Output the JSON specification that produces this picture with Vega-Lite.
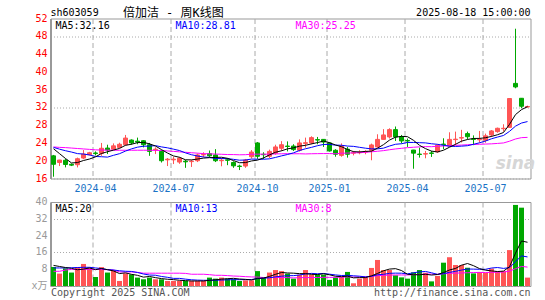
{
  "$schema": "https://vega.github.io/schema/vega-lite/v6.json",
  "background": "white",
  "padding": {"left": 30.5, "top": 5.5, "right": 0, "bottom": 0},
  "bounds": "flush",
  "spacing": 23.5,
  "config": {
    "font": "DejaVu Sans Mono",
    "view": {"stroke": "#999999", "strokeWidth": 1},
    "axis": {"labelFont": "DejaVu Sans Mono, Noto Sans CJK SC", "labelFontSize": 10, "ticks": false, "domain": false, "title": null}
  },
  "data": {"values": [
{"date":"2024-02-08","open":21.1,"high":21.3,"low":16.4,"close":19.2,"vol":9.05,"ma5":22.7,"ma10":23.0,"ma30":23.1,"vma5":9.8,"vma10":8.6,"vma30":7.0},
{"date":"2024-02-23","open":19.6,"high":20.2,"low":18.8,"close":20.15,"vol":5.9,"ma5":21.6,"ma10":22.6,"ma30":23.0,"vma5":9.3,"vma10":8.6,"vma30":7.0},
{"date":"2024-03-01","open":20.1,"high":20.4,"low":18.5,"close":19.15,"vol":8.4,"ma5":20.5,"ma10":22.25,"ma30":22.95,"vma5":8.8,"vma10":8.6,"vma30":7.6},
{"date":"2024-03-08","open":19.2,"high":19.35,"low":18.8,"close":19.0,"vol":6.4,"ma5":19.5,"ma10":21.95,"ma30":22.85,"vma5":8.4,"vma10":8.7,"vma30":7.9},
{"date":"2024-03-15","open":19.1,"high":20.7,"low":18.5,"close":20.45,"vol":9.0,"ma5":19.59,"ma10":21.6,"ma30":22.75,"vma5":7.75,"vma10":8.8,"vma30":7.9},
{"date":"2024-03-22","open":20.6,"high":22.4,"low":20.35,"close":21.5,"vol":10.5,"ma5":20.05,"ma10":21.5,"ma30":22.65,"vma5":8.04,"vma10":8.9,"vma30":7.9},
{"date":"2024-03-29","open":21.35,"high":22.0,"low":21.2,"close":21.8,"vol":8.7,"ma5":20.38,"ma10":21.3,"ma30":22.55,"vma5":8.6,"vma10":8.9,"vma30":7.9},
{"date":"2024-04-03","open":21.75,"high":22.1,"low":21.2,"close":21.6,"vol":4.3,"ma5":20.87,"ma10":20.95,"ma30":22.45,"vma5":7.78,"vma10":8.6,"vma30":7.9},
{"date":"2024-04-12","open":21.65,"high":24.0,"low":21.1,"close":22.8,"vol":9.0,"ma5":21.63,"ma10":20.9,"ma30":22.4,"vma5":8.3,"vma10":8.3,"vma30":7.8},
{"date":"2024-04-19","open":22.85,"high":23.6,"low":21.5,"close":22.4,"vol":6.4,"ma5":22.02,"ma10":20.81,"ma30":22.38,"vma5":7.78,"vma10":7.77,"vma30":7.8},
{"date":"2024-04-26","open":22.6,"high":23.9,"low":22.5,"close":23.35,"vol":7.5,"ma5":22.39,"ma10":21.22,"ma30":22.36,"vma5":7.18,"vma10":7.61,"vma30":7.6},
{"date":"2024-04-30","open":23.0,"high":24.05,"low":22.85,"close":23.7,"vol":2.4,"ma5":22.77,"ma10":21.58,"ma30":22.35,"vma5":5.92,"vma10":7.26,"vma30":6.7},
{"date":"2024-05-10","open":23.6,"high":25.8,"low":23.4,"close":25.1,"vol":6.0,"ma5":23.47,"ma10":22.17,"ma30":22.35,"vma5":6.26,"vma10":7.02,"vma30":6.7},
{"date":"2024-05-17","open":24.65,"high":24.8,"low":23.6,"close":24.0,"vol":5.5,"ma5":23.71,"ma10":22.67,"ma30":22.35,"vma5":5.56,"vma10":6.93,"vma30":6.7},
{"date":"2024-05-24","open":24.4,"high":25.2,"low":23.7,"close":24.2,"vol":4.0,"ma5":24.07,"ma10":23.05,"ma30":22.36,"vma5":5.08,"vma10":6.43,"vma30":6.5},
{"date":"2024-05-31","open":24.5,"high":24.65,"low":23.0,"close":23.6,"vol":3.2,"ma5":24.12,"ma10":23.26,"ma30":22.36,"vma5":4.22,"vma10":5.7,"vma30":6.1},
{"date":"2024-06-07","open":23.6,"high":24.0,"low":21.1,"close":22.1,"vol":4.0,"ma5":23.8,"ma10":23.29,"ma30":22.35,"vma5":4.54,"vma10":5.23,"vma30":6.1},
{"date":"2024-06-14","open":22.45,"high":23.0,"low":21.5,"close":22.6,"vol":3.2,"ma5":23.3,"ma10":23.39,"ma30":22.33,"vma5":3.98,"vma10":5.12,"vma30":6.1},
{"date":"2024-06-21","open":22.1,"high":22.45,"low":19.6,"close":20.0,"vol":3.2,"ma5":22.5,"ma10":23.11,"ma30":22.3,"vma5":3.52,"vma10":4.54,"vma30":6.1},
{"date":"2024-06-28","open":20.2,"high":20.6,"low":18.8,"close":20.35,"vol":2.4,"ma5":21.73,"ma10":22.9,"ma30":22.2,"vma5":3.2,"vma10":4.14,"vma30":6.1},
{"date":"2024-07-05","open":20.2,"high":20.9,"low":19.25,"close":20.35,"vol":2.4,"ma5":21.08,"ma10":22.6,"ma30":22.1,"vma5":3.04,"vma10":3.63,"vma30":6.1},
{"date":"2024-07-12","open":19.7,"high":20.85,"low":19.3,"close":20.6,"vol":2.4,"ma5":20.78,"ma10":22.29,"ma30":22.0,"vma5":2.72,"vma10":3.63,"vma30":6.1},
{"date":"2024-07-19","open":19.9,"high":20.2,"low":18.4,"close":19.75,"vol":2.4,"ma5":20.21,"ma10":21.76,"ma30":21.9,"vma5":2.56,"vma10":3.27,"vma30":6.0},
{"date":"2024-07-26","open":19.8,"high":20.2,"low":18.6,"close":19.9,"vol":2.4,"ma5":20.19,"ma10":21.35,"ma30":21.8,"vma5":2.4,"vma10":2.96,"vma30":5.6},
{"date":"2024-08-02","open":20.0,"high":21.6,"low":19.7,"close":21.3,"vol":2.4,"ma5":20.38,"ma10":21.06,"ma30":21.7,"vma5":2.4,"vma10":2.8,"vma30":5.6},
{"date":"2024-08-09","open":21.3,"high":21.9,"low":20.85,"close":21.4,"vol":2.4,"ma5":20.59,"ma10":20.84,"ma30":21.6,"vma5":2.4,"vma10":2.72,"vma30":5.6},
{"date":"2024-08-16","open":21.6,"high":22.3,"low":20.8,"close":21.1,"vol":4.0,"ma5":20.69,"ma10":20.74,"ma30":21.55,"vma5":2.72,"vma10":2.72,"vma30":5.4},
{"date":"2024-08-23","open":21.3,"high":22.6,"low":19.7,"close":20.0,"vol":3.5,"ma5":20.74,"ma10":20.48,"ma30":21.5,"vma5":2.94,"vma10":2.75,"vma30":5.1},
{"date":"2024-08-30","open":20.0,"high":20.6,"low":18.75,"close":20.1,"vol":4.0,"ma5":20.78,"ma10":20.49,"ma30":21.45,"vma5":3.26,"vma10":2.83,"vma30":5.1},
{"date":"2024-09-06","open":20.2,"high":20.6,"low":19.0,"close":20.1,"vol":3.5,"ma5":20.54,"ma10":20.46,"ma30":21.39,"vma5":3.48,"vma10":2.94,"vma30":4.95},
{"date":"2024-09-13","open":19.6,"high":19.85,"low":18.4,"close":18.85,"vol":3.2,"ma5":20.03,"ma10":20.31,"ma30":21.38,"vma5":3.64,"vma10":3.02,"vma30":4.75},
{"date":"2024-09-20","open":18.8,"high":19.1,"low":17.9,"close":18.7,"vol":2.4,"ma5":19.55,"ma10":20.12,"ma30":21.33,"vma5":3.32,"vma10":3.02,"vma30":4.64},
{"date":"2024-09-27","open":18.8,"high":20.4,"low":18.4,"close":20.15,"vol":2.7,"ma5":19.58,"ma10":20.16,"ma30":21.36,"vma5":3.16,"vma10":3.05,"vma30":4.45},
{"date":"2024-09-30","open":20.9,"high":22.4,"low":20.5,"close":21.95,"vol":2.7,"ma5":19.95,"ma10":20.37,"ma30":21.46,"vma5":2.9,"vma10":3.08,"vma30":4.32},
{"date":"2024-10-11","open":24.0,"high":24.2,"low":20.4,"close":21.0,"vol":7.1,"ma5":20.13,"ma10":20.34,"ma30":21.48,"vma5":3.62,"vma10":3.55,"vma30":4.26},
{"date":"2024-10-18","open":21.45,"high":21.9,"low":20.4,"close":21.35,"vol":4.0,"ma5":20.63,"ma10":20.33,"ma30":21.47,"vma5":3.78,"vma10":3.71,"vma30":4.04},
{"date":"2024-10-25","open":21.0,"high":22.5,"low":20.6,"close":22.1,"vol":6.4,"ma5":21.31,"ma10":20.43,"ma30":21.48,"vma5":4.58,"vma10":3.95,"vma30":3.97},
{"date":"2024-11-01","open":21.7,"high":23.6,"low":21.35,"close":23.1,"vol":7.6,"ma5":21.9,"ma10":20.74,"ma30":21.53,"vma5":5.56,"vma10":4.36,"vma30":4.08},
{"date":"2024-11-08","open":22.8,"high":24.4,"low":22.2,"close":23.6,"vol":7.1,"ma5":22.23,"ma10":21.09,"ma30":21.56,"vma5":6.44,"vma10":4.67,"vma30":4.01},
{"date":"2024-11-15","open":23.3,"high":24.35,"low":22.1,"close":23.2,"vol":5.9,"ma5":22.67,"ma10":21.4,"ma30":21.59,"vma5":6.2,"vma10":4.91,"vma30":4.0},
{"date":"2024-11-22","open":23.3,"high":23.7,"low":22.2,"close":22.5,"vol":3.5,"ma5":22.9,"ma10":21.77,"ma30":21.56,"vma5":6.1,"vma10":4.94,"vma30":3.86},
{"date":"2024-11-29","open":22.35,"high":24.8,"low":22.05,"close":24.0,"vol":5.4,"ma5":23.28,"ma10":22.3,"ma30":21.57,"vma5":5.9,"vma10":5.24,"vma30":3.96},
{"date":"2024-12-06","open":23.9,"high":25.2,"low":22.95,"close":24.05,"vol":7.6,"ma5":23.47,"ma10":22.69,"ma30":21.53,"vma5":5.9,"vma10":5.73,"vma30":4.02},
{"date":"2024-12-13","open":24.0,"high":25.5,"low":23.7,"close":25.2,"vol":5.4,"ma5":23.79,"ma10":23.01,"ma30":21.57,"vma5":5.56,"vma10":6.0,"vma30":4.01},
{"date":"2024-12-20","open":24.75,"high":25.35,"low":23.7,"close":24.65,"vol":5.4,"ma5":24.08,"ma10":23.38,"ma30":21.59,"vma5":5.46,"vma10":5.83,"vma30":4.06},
{"date":"2024-12-27","open":24.8,"high":24.85,"low":23.1,"close":24.2,"vol":5.4,"ma5":24.42,"ma10":23.66,"ma30":21.61,"vma5":5.84,"vma10":5.97,"vma30":4.13},
{"date":"2025-01-03","open":24.0,"high":24.15,"low":22.05,"close":22.2,"vol":2.9,"ma5":24.06,"ma10":23.67,"ma30":21.61,"vma5":5.34,"vma10":5.62,"vma30":4.1},
{"date":"2025-01-10","open":22.35,"high":22.6,"low":20.9,"close":21.45,"vol":4.1,"ma5":23.54,"ma10":23.51,"ma30":21.57,"vma5":4.64,"vma10":5.27,"vma30":4.13},
{"date":"2025-01-17","open":21.2,"high":23.9,"low":20.9,"close":23.3,"vol":4.4,"ma5":23.16,"ma10":23.48,"ma30":21.68,"vma5":4.44,"vma10":5.0,"vma30":4.17},
{"date":"2025-01-24","open":22.6,"high":23.1,"low":20.7,"close":21.45,"vol":6.7,"ma5":22.52,"ma10":23.3,"ma30":21.72,"vma5":4.7,"vma10":5.08,"vma30":4.31},
{"date":"2025-01-27","open":21.7,"high":22.2,"low":21.2,"close":21.8,"vol":1.3,"ma5":22.04,"ma10":23.23,"ma30":21.77,"vma5":3.88,"vma10":4.86,"vma30":4.27},
{"date":"2025-02-07","open":21.8,"high":22.35,"low":21.45,"close":21.9,"vol":3.5,"ma5":21.98,"ma10":23.02,"ma30":21.81,"vma5":4.0,"vma10":4.67,"vma30":4.31},
{"date":"2025-02-14","open":21.95,"high":22.35,"low":21.45,"close":22.05,"vol":4.1,"ma5":22.1,"ma10":22.82,"ma30":21.89,"vma5":4.0,"vma10":4.32,"vma30":4.37},
{"date":"2025-02-21","open":22.35,"high":23.85,"low":20.1,"close":23.55,"vol":8.6,"ma5":22.15,"ma10":22.66,"ma30":22.01,"vma5":4.84,"vma10":4.64,"vma30":4.57},
{"date":"2025-02-28","open":23.1,"high":25.95,"low":22.95,"close":24.8,"vol":12.4,"ma5":22.82,"ma10":22.67,"ma30":22.13,"vma5":5.98,"vma10":5.34,"vma30":4.91},
{"date":"2025-03-07","open":24.8,"high":27.1,"low":24.75,"close":25.8,"vol":7.6,"ma5":23.62,"ma10":22.83,"ma30":22.27,"vma5":7.24,"vma10":5.56,"vma30":5.08},
{"date":"2025-03-14","open":25.35,"high":27.3,"low":25.0,"close":27.0,"vol":7.6,"ma5":24.64,"ma10":23.31,"ma30":22.47,"vma5":8.06,"vma10":6.03,"vma30":5.2},
{"date":"2025-03-21","open":27.0,"high":27.7,"low":24.45,"close":25.35,"vol":5.1,"ma5":25.3,"ma10":23.7,"ma30":22.65,"vma5":8.26,"vma10":6.13,"vma30":5.25},
{"date":"2025-03-28","open":25.35,"high":25.8,"low":23.9,"close":24.45,"vol":4.1,"ma5":25.48,"ma10":23.82,"ma30":22.79,"vma5":7.36,"vma10":6.1,"vma30":5.26},
{"date":"2025-04-03","open":24.55,"high":25.0,"low":23.1,"close":24.45,"vol":3.5,"ma5":25.41,"ma10":24.12,"ma30":22.94,"vma5":5.58,"vma10":5.78,"vma30":5.26},
{"date":"2025-04-11","open":22.4,"high":22.45,"low":18.2,"close":21.7,"vol":6.5,"ma5":24.59,"ma10":24.11,"ma30":23.03,"vma5":5.36,"vma10":6.3,"vma30":5.37},
{"date":"2025-04-18","open":21.5,"high":22.95,"low":20.7,"close":21.4,"vol":7.6,"ma5":23.47,"ma10":24.06,"ma30":23.12,"vma5":5.36,"vma10":6.71,"vma30":5.54},
{"date":"2025-04-25","open":21.5,"high":22.2,"low":20.55,"close":21.6,"vol":6.3,"ma5":22.72,"ma10":24.01,"ma30":23.17,"vma5":5.6,"vma10":6.93,"vma30":5.66},
{"date":"2025-04-30","open":21.75,"high":22.2,"low":20.85,"close":21.65,"vol":2.2,"ma5":22.16,"ma10":23.82,"ma30":23.16,"vma5":5.22,"vma10":6.29,"vma30":5.64},
{"date":"2025-05-09","open":22.0,"high":23.7,"low":21.8,"close":23.5,"vol":4.8,"ma5":21.97,"ma10":23.69,"ma30":23.25,"vma5":5.48,"vma10":5.53,"vma30":5.57},
{"date":"2025-05-16","open":23.75,"high":25.05,"low":22.6,"close":23.65,"vol":11.1,"ma5":22.36,"ma10":23.48,"ma30":23.32,"vma5":6.4,"vma10":5.88,"vma30":5.8},
{"date":"2025-05-23","open":23.3,"high":26.4,"low":23.2,"close":24.8,"vol":13.7,"ma5":23.04,"ma10":23.26,"ma30":23.41,"vma5":7.62,"vma10":6.49,"vma30":6.05},
{"date":"2025-05-30","open":24.75,"high":26.55,"low":23.5,"close":24.85,"vol":10.0,"ma5":23.69,"ma10":23.21,"ma30":23.47,"vma5":8.36,"vma10":6.98,"vma30":6.13},
{"date":"2025-06-06","open":25.1,"high":26.95,"low":24.1,"close":25.2,"vol":10.0,"ma5":24.4,"ma10":23.28,"ma30":23.52,"vma5":9.92,"vma10":7.57,"vma30":6.22},
{"date":"2025-06-13","open":26.1,"high":26.55,"low":24.8,"close":25.4,"vol":8.7,"ma5":24.78,"ma10":23.38,"ma30":23.6,"vma5":10.7,"vma10":8.09,"vma30":6.32},
{"date":"2025-06-20","open":24.9,"high":25.7,"low":23.5,"close":24.8,"vol":6.0,"ma5":25.01,"ma10":23.69,"ma30":23.67,"vma5":9.68,"vma10":8.04,"vma30":6.4},
{"date":"2025-06-27","open":24.7,"high":26.7,"low":24.05,"close":24.85,"vol":6.7,"ma5":25.02,"ma10":24.03,"ma30":23.7,"vma5":8.28,"vma10":7.95,"vma30":6.44},
{"date":"2025-07-04","open":24.6,"high":26.1,"low":24.05,"close":25.6,"vol":6.3,"ma5":25.17,"ma10":24.43,"ma30":23.75,"vma5":7.54,"vma10":7.95,"vma30":6.4},
{"date":"2025-07-11","open":25.8,"high":26.9,"low":25.35,"close":26.7,"vol":8.3,"ma5":25.47,"ma10":24.94,"ma30":23.8,"vma5":7.2,"vma10":8.56,"vma30":6.5},
{"date":"2025-07-18","open":26.55,"high":27.45,"low":26.3,"close":27.3,"vol":7.1,"ma5":25.85,"ma10":25.32,"ma30":23.89,"vma5":6.88,"vma10":8.79,"vma30":6.55},
{"date":"2025-07-25","open":27.2,"high":28.2,"low":26.55,"close":27.3,"vol":7.1,"ma5":26.35,"ma10":25.68,"ma30":24.0,"vma5":7.1,"vma10":8.39,"vma30":6.61},
{"date":"2025-08-01","open":27.5,"high":34.0,"low":27.4,"close":34.0,"vol":17.1,"ma5":28.18,"ma10":26.6,"ma30":24.39,"vma5":9.18,"vma10":8.73,"vma30":7.08},
{"date":"2025-08-08","open":37.4,"high":49.7,"low":36.3,"close":36.6,"vol":38.6,"ma5":30.38,"ma10":27.78,"ma30":24.89,"vma5":15.64,"vma10":11.59,"vma30":8.23},
{"date":"2025-08-15","open":34.05,"high":34.1,"low":31.8,"close":32.25,"vol":37.3,"ma5":31.49,"ma10":28.48,"ma30":25.19,"vma5":21.44,"vma10":14.32,"vma30":9.33},
{"date":"2025-08-18","open":32.1,"high":32.4,"low":31.95,"close":32.2,"vol":4.0,"ma5":32.16,"ma10":28.81,"ma30":25.25,"vma5":20.82,"vma10":13.85,"vma30":9.0}
  ]},
  "vconcat": [
    {
      "width": 480,
      "height": 160,
      "encoding": {
        "x": {
          "field": "date", "type": "ordinal",
          "scale": {"type": "band", "paddingInner": 0, "paddingOuter": 0},
          "axis": {
            "values": ["2024-04-03", "2024-07-05", "2024-10-11", "2025-01-03", "2025-04-03", "2025-07-04"],
            "labelExpr": "slice(datum.value, 0, 7)",
            "bandPosition": 0, "labelAngle": 0, "labelAlign": "center", "labelColor": "#1a73c6",
            "labelPadding": 5, "grid": true, "gridColor": "#aaaaaa", "gridDash": [5, 3], "labelFontSize": 10
          }
        }
      },
      "layer": [
        {
          "mark": {"type": "rule", "strokeWidth": 1},
          "encoding": {
            "y": {"field": "low", "type": "quantitative", "scale": {"domain": [16, 52], "zero": false, "nice": false},
              "axis": {"values": [16, 20, 24, 28, 32, 36, 40, 44, 48, 52], "labels": false,
                "grid": true, "gridColor": "#aaaaaa", "gridDash": [1, 2], "domain": true, "domainColor": "#999999", "domainWidth": 2}},
            "y2": {"field": "high"},
            "color": {"condition": {"test": "datum.close >= datum.open", "value": "#ff5555"}, "value": "#00a800"}
          }
        },
        {
          "mark": {"type": "bar", "width": 4, "strokeWidth": 1},
          "encoding": {
            "y": {"field": "open", "type": "quantitative"},
            "y2": {"field": "close"},
            "color": {"condition": {"test": "datum.close >= datum.open", "value": "#ff5555"}, "value": "#00a800"},
            "stroke": {"condition": {"test": "datum.close >= datum.open", "value": "#ff5555"}, "value": "#00a800"}
          }
        },
        {"mark": {"type": "line", "color": "#ff00ff", "strokeWidth": 1}, "encoding": {"y": {"field": "ma30", "type": "quantitative"}}},
        {"mark": {"type": "line", "color": "#0000ff", "strokeWidth": 1}, "encoding": {"y": {"field": "ma10", "type": "quantitative"}}},
        {"mark": {"type": "line", "color": "#000000", "strokeWidth": 1}, "encoding": {"y": {"field": "ma5", "type": "quantitative"}}},
        {
          "data": {"values": [{"tick": 16}, {"tick": 20}, {"tick": 24}, {"tick": 28}, {"tick": 32}, {"tick": 36}, {"tick": 40}, {"tick": 44}, {"tick": 48}, {"tick": 52}]},
          "mark": {"type": "text", "fontSize": 10, "color": "#ff0000", "align": "right", "baseline": "middle", "dx": -6},
          "encoding": {"x": {"datum": "2024-02-08"}, "y": {"field": "tick", "type": "quantitative"}, "text": {"field": "tick", "type": "quantitative"}}
        },
        {
          "data": {"values": [{}]},
          "mark": {"type": "text", "text": "sina", "fontSize": 17, "fontWeight": "bold", "fontStyle": "italic", "font": "DejaVu Sans", "color": "#d6d6d6", "align": "center", "baseline": "bottom", "dy": -6},
          "encoding": {"x": {"datum": "2025-08-08"}, "y": {"datum": 16}}
        },
        {
          "data": {"values": [{}]},
          "mark": {"type": "text", "text": "MA5:32.16", "fontSize": 10, "color": "#000000", "align": "left", "baseline": "top", "dx": 2, "dy": 2},
          "encoding": {"x": {"datum": "2024-02-08"}, "y": {"datum": 52}}
        },
        {
          "data": {"values": [{}]},
          "mark": {"type": "text", "text": "MA10:28.81", "fontSize": 10, "color": "#0000ff", "align": "left", "baseline": "top", "dx": 2, "dy": 2},
          "encoding": {"x": {"datum": "2024-07-05"}, "y": {"datum": 52}}
        },
        {
          "data": {"values": [{}]},
          "mark": {"type": "text", "text": "MA30:25.25", "fontSize": 10, "color": "#ff00ff", "align": "left", "baseline": "top", "dx": 2, "dy": 2},
          "encoding": {"x": {"datum": "2024-11-22"}, "y": {"datum": 52}}
        },
        {
          "data": {"values": [{}]},
          "mark": {"type": "text", "text": "sh603059", "fontSize": 10, "color": "#000000", "align": "left", "baseline": "middle", "dx": -3, "dy": -6},
          "encoding": {"x": {"datum": "2024-02-08"}, "y": {"datum": 52}}
        },
        {
          "data": {"values": [{}]},
          "mark": {"type": "text", "text": "倍加洁 - 周K线图", "font": "DejaVu Sans Mono, Noto Sans CJK SC", "fontSize": 12, "color": "#000000", "align": "left", "baseline": "middle", "dx": -2.6, "dy": -6},
          "encoding": {"x": {"datum": "2024-05-10"}, "y": {"datum": 52}}
        },
        {
          "data": {"values": [{}]},
          "mark": {"type": "text", "text": "2025-08-18 15:00:00", "fontSize": 10, "color": "#000000", "align": "right", "baseline": "middle", "dx": 3, "dy": -6},
          "encoding": {"x": {"datum": "2025-08-18"}, "y": {"datum": 52}}
        }
      ]
    },
    {
      "width": 480,
      "height": 84,
      "encoding": {
        "x": {
          "field": "date", "type": "ordinal",
          "scale": {"type": "band", "paddingInner": 0, "paddingOuter": 0},
          "axis": {
            "values": ["2024-04-03", "2024-07-05", "2024-10-11", "2025-01-03", "2025-04-03", "2025-07-04"],
            "bandPosition": 0, "labels": false, "grid": true, "gridColor": "#aaaaaa", "gridDash": [5, 3]
          }
        }
      },
      "layer": [
        {
          "mark": {"type": "bar", "width": 5},
          "encoding": {
            "y": {"field": "vol", "type": "quantitative", "scale": {"domain": [0, 40], "nice": false},
              "axis": {"values": [0, 8, 16, 24, 32, 40], "labels": false,
                "grid": true, "gridColor": "#aaaaaa", "gridDash": [1, 2], "domain": true, "domainColor": "#999999", "domainWidth": 2}},
            "color": {"condition": {"test": "datum.close >= datum.open", "value": "#ff5555"}, "value": "#00a800"}
          }
        },
        {"mark": {"type": "line", "color": "#ff00ff", "strokeWidth": 1}, "encoding": {"y": {"field": "vma30", "type": "quantitative"}}},
        {"mark": {"type": "line", "color": "#0000ff", "strokeWidth": 1}, "encoding": {"y": {"field": "vma10", "type": "quantitative"}}},
        {"mark": {"type": "line", "color": "#000000", "strokeWidth": 1}, "encoding": {"y": {"field": "vma5", "type": "quantitative"}}},
        {
          "data": {"values": [{"tick": 0, "label": "x万"}, {"tick": 8, "label": "8"}, {"tick": 16, "label": "16"}, {"tick": 24, "label": "24"}, {"tick": 32, "label": "32"}, {"tick": 40, "label": "40"}]},
          "mark": {"type": "text", "fontSize": 10, "font": "DejaVu Sans Mono, Noto Sans CJK SC", "color": "#999999", "align": "right", "baseline": "middle", "dx": -6},
          "encoding": {"x": {"datum": "2024-02-08"}, "y": {"field": "tick", "type": "quantitative"}, "text": {"field": "label", "type": "nominal"}}
        },
        {
          "data": {"values": [{}]},
          "mark": {"type": "text", "text": "MA5:20", "fontSize": 10, "color": "#000000", "align": "left", "baseline": "top", "dx": 2, "dy": 2},
          "encoding": {"x": {"datum": "2024-02-08"}, "y": {"datum": 40}}
        },
        {
          "data": {"values": [{}]},
          "mark": {"type": "text", "text": "MA10:13", "fontSize": 10, "color": "#0000ff", "align": "left", "baseline": "top", "dx": 2, "dy": 2},
          "encoding": {"x": {"datum": "2024-07-05"}, "y": {"datum": 40}}
        },
        {
          "data": {"values": [{}]},
          "mark": {"type": "text", "text": "MA30:8", "fontSize": 10, "color": "#ff00ff", "align": "left", "baseline": "top", "dx": 2, "dy": 2},
          "encoding": {"x": {"datum": "2024-11-22"}, "y": {"datum": 40}}
        },
        {
          "data": {"values": [{}]},
          "mark": {"type": "text", "text": "Copyright 2025 SINA.COM", "fontSize": 10, "color": "#555555", "align": "left", "baseline": "top", "dx": -2.5, "dy": 2},
          "encoding": {"x": {"datum": "2024-02-08"}, "y": {"datum": 0}}
        },
        {
          "data": {"values": [{}]},
          "mark": {"type": "text", "text": "http://finance.sina.com.cn", "fontSize": 10, "color": "#555555", "align": "right", "baseline": "top", "dx": 3, "dy": 2},
          "encoding": {"x": {"datum": "2025-08-18"}, "y": {"datum": 0}}
        }
      ]
    }
  ]
}
